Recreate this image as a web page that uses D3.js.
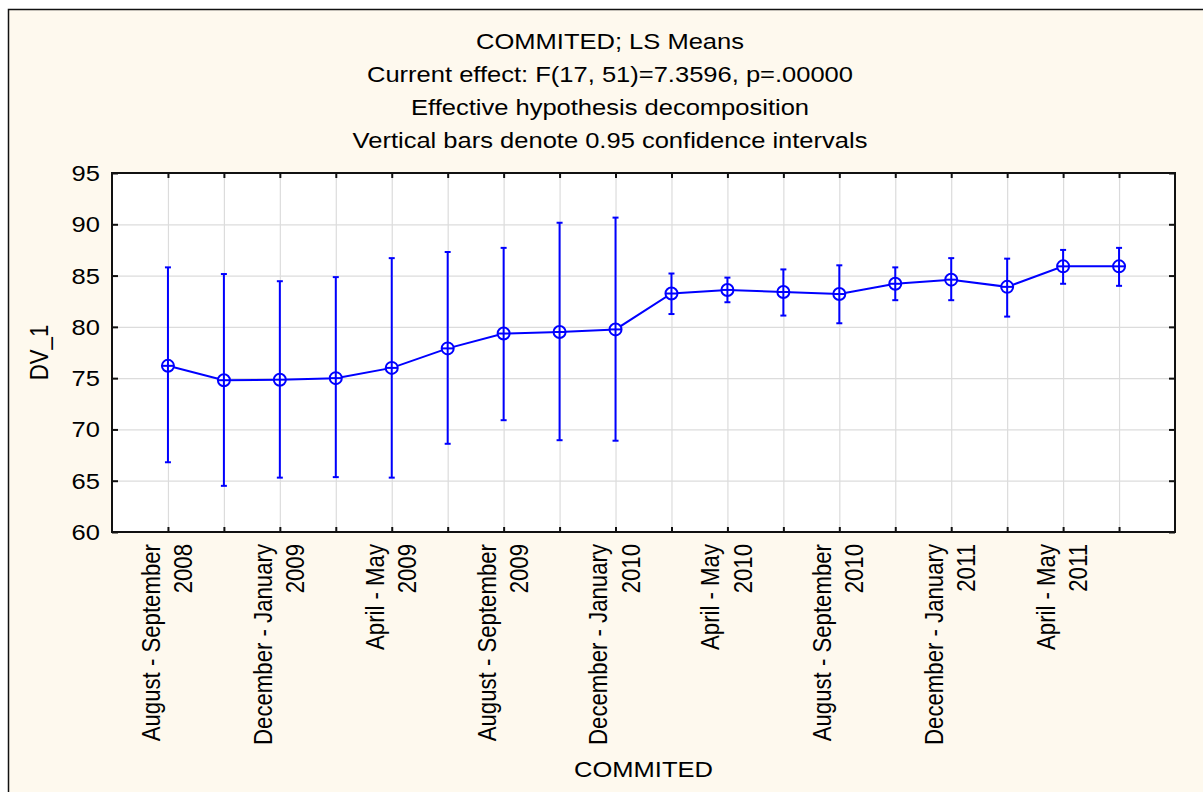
<!DOCTYPE html>
<html lang="en">

<head>
	<meta charset="UTF-8">
	<title>COMMITED; LS Means</title>

	<style>
		body {
			margin: 0;
			background: #ffffff;
		}

		text {
			font-family: "Liberation Sans", Arial, sans-serif;
			fill: #000;
		}
	</style>

	<script src="https://d3js.org/d3.v7.min.js"></script>

</head>

<body>

	<script type="text/javascript">
		// data (bi-monthly periods, LS means + 95% CI)
		const categories = [
			"August - September 2008", "October - November 2008", "December - January 2009",
			"February - March 2009", "April - May 2009", "June - July 2009",
			"August - September 2009", "October - November 2009", "December - January 2010",
			"February - March 2010", "April - May 2010", "June - July 2010",
			"August - September 2010", "October - November 2010", "December - January 2011",
			"February - March 2011", "April - May 2011", "June - July 2011"
		];
		const means = [76.2, 74.8, 74.85, 75.0, 76.0, 77.9, 79.35, 79.5, 79.75, 83.25, 83.6, 83.4, 83.2, 84.2, 84.6, 83.9, 85.9, 85.9];
		const upper = [85.8, 85.15, 84.45, 84.85, 86.7, 87.3, 87.7, 90.15, 90.65, 85.2, 84.8, 85.6, 86.0, 85.8, 86.7, 86.65, 87.5, 87.7];
		const lower = [66.8, 64.5, 65.3, 65.35, 65.3, 68.6, 70.9, 68.95, 68.9, 81.25, 82.4, 81.1, 80.35, 82.6, 82.6, 81.0, 84.2, 84.0];
		const yTicks = [60, 65, 70, 75, 80, 85, 90, 95];
		const titleLines = [
			"COMMITED; LS Means",
			"Current effect: F(17, 51)=7.3596, p=.00000",
			"Effective hypothesis decomposition",
			"Vertical bars denote 0.95 confidence intervals"
		];

		const width = 1203;
		const height = 792;
		const plot = { left: 112, top: 173, right: 1175, bottom: 532 };
		const stretch = 1.15; // text in the picture is a bit wider than normal
		const fs = "22.2px";
		const blue = "#0000ff";

		const svg = d3.select("body").append("svg")
			.attr("width", width)
			.attr("height", height);

		// cream panel with a dark frame
		svg.append("rect")
			.attr("x", 8.5).attr("y", 9.5)
			.attr("width", 1220).attr("height", 800)
			.attr("fill", "#fef9ee")
			.attr("stroke", "#111")
			.attr("stroke-width", 1.5);

		const x = d3.scalePoint()
			.domain(categories)
			.range([plot.left, plot.right])
			.padding(1);

		const y = d3.scaleLinear()
			.domain([60, 95])
			.range([plot.bottom, plot.top]);

		const pw = plot.right - plot.left;
		const ph = plot.bottom - plot.top;

		svg.append("rect")
			.attr("x", plot.left).attr("y", plot.top)
			.attr("width", pw).attr("height", ph)
			.attr("fill", "#fff");

		// grid
		const gridX = svg.append("g")
			.attr("transform", `translate(0,${plot.bottom})`)
			.call(d3.axisBottom(x).tickSize(-ph).tickFormat(""));
		const gridY = svg.append("g")
			.attr("transform", `translate(${plot.left},0)`)
			.call(d3.axisLeft(y).tickValues(yTicks).tickSize(-pw).tickFormat(""));
		[gridX, gridY].forEach(g => {
			g.select(".domain").remove();
			g.selectAll("line").attr("stroke", "#dcdcdc").attr("stroke-width", 1.2);
		});

		// inward ticks on all four sides
		function ticks(axis, tx, ty) {
			const g = svg.append("g").attr("transform", `translate(${tx},${ty})`).call(axis);
			g.select(".domain").remove();
			g.selectAll("line").attr("stroke", "#111").attr("stroke-width", 2);
			return g;
		}
		ticks(d3.axisLeft(y).tickValues(yTicks).tickSize(-6).tickFormat(""), plot.left, 0);
		ticks(d3.axisRight(y).tickValues(yTicks).tickSize(-6).tickFormat(""), plot.right, 0);
		ticks(d3.axisTop(x).tickSize(-5).tickFormat(""), 0, plot.top);
		ticks(d3.axisBottom(x).tickSize(-5).tickFormat(""), 0, plot.bottom);

		// plot frame
		svg.append("rect")
			.attr("x", plot.left).attr("y", plot.top)
			.attr("width", pw).attr("height", ph)
			.attr("fill", "none")
			.attr("stroke", "#111")
			.attr("stroke-width", 2);

		// y tick labels
		svg.selectAll(".ylab")
			.data(yTicks)
			.join("text")
			.classed("ylab", true)
			.attr("transform", d => `translate(100,${y(d)}) scale(${stretch},1)`)
			.attr("text-anchor", "end")
			.attr("dy", "0.36em")
			.style("font-size", fs)
			.text(d => d);

		// x tick labels, every second category, two lines rotated
		const xl = svg.selectAll(".xlab")
			.data(categories.filter((d, i) => i % 2 === 0))
			.join("text")
			.classed("xlab", true)
			.attr("transform", d => `translate(${x(d)},544) scale(${stretch},1) rotate(-90)`)
			.attr("text-anchor", "end")
			.style("font-size", fs);
		xl.append("tspan")
			.attr("x", 0).attr("y", -7)
			.text(d => d.slice(0, d.lastIndexOf(" ")));
		xl.append("tspan")
			.attr("x", 0).attr("y", 21)
			.text(d => d.slice(d.lastIndexOf(" ") + 1));

		// axis titles
		svg.append("text")
			.attr("transform", `translate(48,${(plot.top + plot.bottom) / 2}) scale(${stretch},1) rotate(-90)`)
			.attr("text-anchor", "middle")
			.style("font-size", fs)
			.text("DV_1");
		svg.append("text")
			.attr("transform", `translate(${(plot.left + plot.right) / 2},777) scale(${stretch},1)`)
			.attr("text-anchor", "middle")
			.style("font-size", fs)
			.text("COMMITED");

		// title block
		svg.selectAll(".title")
			.data(titleLines)
			.join("text")
			.classed("title", true)
			.attr("transform", (d, i) => `translate(610,${49 + i * 33}) scale(${stretch},1)`)
			.attr("text-anchor", "middle")
			.style("font-size", fs)
			.text(d => d);

		const rows = categories.map((c, i) => ({ c: c, m: means[i], hi: upper[i], lo: lower[i] }));

		// mean line
		svg.append("path")
			.datum(rows)
			.attr("fill", "none")
			.attr("stroke", blue)
			.attr("stroke-width", 2)
			.attr("d", d3.line().x(d => x(d.c)).y(d => y(d.m)));

		// confidence bars
		const bars = svg.selectAll(".bar")
			.data(rows)
			.join("g")
			.classed("bar", true)
			.attr("stroke", blue)
			.attr("stroke-width", 2);
		bars.append("line")
			.attr("x1", d => x(d.c)).attr("x2", d => x(d.c))
			.attr("y1", d => y(d.hi)).attr("y2", d => y(d.lo));
		bars.append("line")
			.attr("x1", d => x(d.c) - 3).attr("x2", d => x(d.c) + 3)
			.attr("y1", d => y(d.hi)).attr("y2", d => y(d.hi));
		bars.append("line")
			.attr("x1", d => x(d.c) - 3).attr("x2", d => x(d.c) + 3)
			.attr("y1", d => y(d.lo)).attr("y2", d => y(d.lo));

		// circle markers with a cross
		const pts = svg.selectAll(".pt")
			.data(rows)
			.join("g")
			.classed("pt", true)
			.attr("transform", d => `translate(${x(d.c)},${y(d.m)})`)
			.attr("stroke", blue)
			.attr("stroke-width", 2);
		pts.append("circle").attr("r", 6).attr("fill", "#fff");
		pts.append("line").attr("x1", -6).attr("x2", 6);
		pts.append("line").attr("y1", -6).attr("y2", 6);
	</script>

</body>

</html>
